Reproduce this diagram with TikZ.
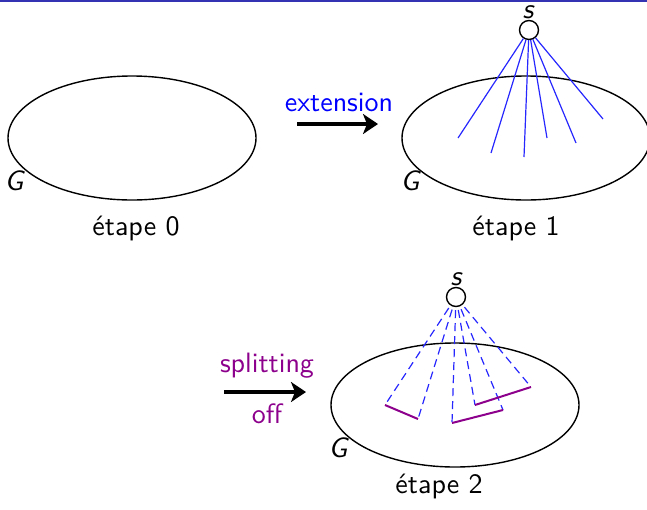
\documentclass[tikz,border=0pt]{standalone}
\usepackage{fontspec}
\usetikzlibrary{shapes.geometric,arrows.meta}
\definecolor{barblue}{RGB}{51,51,179}
\definecolor{splitpurple}{RGB}{140,0,140}
\begin{document}
\begin{tikzpicture}[x=1pt,y=-1pt,
  txt/.style={font=\sffamily,scale=2.8,inner sep=0pt,anchor=base},
  itxt/.style={font=\sffamily\itshape,scale=2.8,inner sep=0pt,anchor=base},
  graphG/.style={draw,line width=1.4pt,ellipse,minimum width=248pt,minimum height=124pt,inner sep=0pt},
  vtx/.style={draw,line width=1.4pt,circle,minimum size=19pt,inner sep=0pt},
  edgeblue/.style={blue!85!white,line width=1.2pt},
  edgedash/.style={blue!85!white,line width=1.2pt,dash pattern=on 8pt off 5pt,dash phase=-3pt},
  splitedge/.style={splitpurple,line width=2pt},
  bigarrow/.style={line width=3.8pt,-{Stealth[length=15pt,width=20pt,inset=4pt]}}]
\useasboundingbox (0,0) rectangle (647,509);
\fill[barblue] (0,0) rectangle (647,2.3);
% etape 0
\node[graphG] (G0) at (132,138) {};
\node[itxt] (lG0) at (14,190) {G};
\node[txt] (e0) at (136,235) {étape 0};
% arrow extension
\coordinate (a1s) at (297,124);
\coordinate (a1e) at (378,124);
\draw[bigarrow] (a1s) -- (a1e);
\node[txt,text=blue] (ext) at (339,111) {extension};
% etape 1
\node[graphG] (G1) at (526,138) {};
\node[itxt] (lG1) at (410,190) {G};
\node[txt] (e1) at (516,235) {étape 1};
\node[vtx] (s1) at (529,30) {};
\node[itxt] (ls1) at (528,18.5) {s};
\coordinate (t1) at (458,138);
\coordinate (t2) at (491,153);
\coordinate (t3) at (524,157);
\coordinate (t4) at (547,138);
\coordinate (t5) at (576,143);
\coordinate (t6) at (603,119);
\foreach \i in {1,...,6} {
  \draw[edgeblue] (s1) -- (t\i);
}
% arrow splitting off
\coordinate (a2s) at (224,392);
\coordinate (a2e) at (306,392);
\draw[bigarrow] (a2s) -- (a2e);
\node[txt,text=splitpurple] (spl) at (267,372) {splitting};
\node[txt,text=splitpurple] (off) at (267,423) {off};
% etape 2
\node[graphG] (G2) at (455,405) {};
\node[itxt] (lG2) at (338,457) {G};
\node[txt] (e2) at (439,493) {étape 2};
\node[vtx] (s2) at (456,297) {};
\node[itxt] (ls2) at (456,285) {s};
\coordinate (u1) at (385,405);
\coordinate (u2) at (418,419);
\coordinate (u3) at (452,423);
\coordinate (u4) at (475,405);
\coordinate (u5) at (503,410);
\coordinate (u6) at (531,387);
\foreach \i in {1,...,6} {
  \draw[edgedash] (s2) -- (u\i);
}
\draw[splitedge] (u1) -- (u2);
\draw[splitedge] (u3) -- (u5);
\draw[splitedge] (u4) -- (u6);
\end{tikzpicture}
\end{document}
